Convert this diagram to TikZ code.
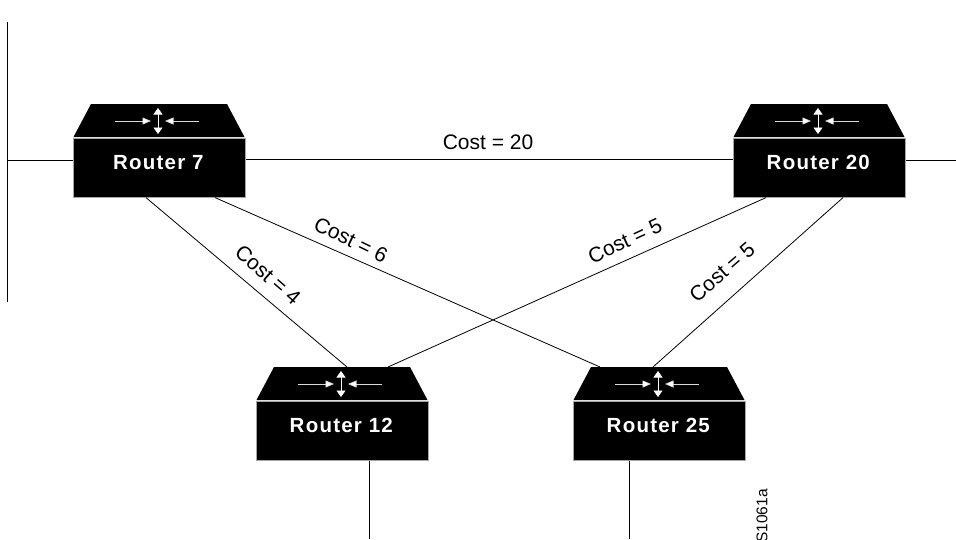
\documentclass[tikz,border=0pt]{standalone}
\usepackage{fontspec}
\setmainfont{Liberation Sans}
\usetikzlibrary{calc,arrows.meta}
\tikzset{
  x=1pt,y=-1pt,
  link/.style={draw=black,line width=0.8pt},
  routerbody/.style={fill=black,draw=black!35,line width=0.6pt,minimum width=172pt,minimum height=59pt,inner sep=0pt,anchor=north west,text=white,font=\fontsize{20.5}{22}\selectfont\bfseries},
  arr/.style={draw=white!85!black,line width=0.7pt,-{Triangle[length=8.5pt,width=7pt,fill=white]}},
  vv/.style={draw=white,line width=0.7pt,{Triangle[length=6.5pt,width=9pt,fill=white]}-{Triangle[length=6.5pt,width=9pt,fill=white]}},
  costlab/.style={font=\fontsize{21}{23}\selectfont,inner sep=0pt}
}
\newcommand{\routerbox}[4]{%
  \node[routerbody] (#1) at (#2,#3) {\hspace*{-2pt}\raisebox{10pt}{\addfontfeatures{LetterSpace=6}#4}};
  \fill[black] ($(#1.north west)+(0.5,-1)$) -- ++(17.5,-33) -- ++(136,0) -- ++(17.5,33) -- cycle;
  \coordinate (#1c) at ($(#1.north west)+(85,-17)$);
  \draw[arr] ($(#1c)+(-43,0)$) -- ($(#1c)+(-7,0)$);
  \draw[arr] ($(#1c)+(41,0)$) -- ($(#1c)+(7,0)$);
  \draw[vv] ($(#1c)+(0,-13)$) -- ($(#1c)+(0,13)$);
}
\begin{document}
\begin{tikzpicture}
\useasboundingbox (0,0) rectangle (956,539);
\routerbox{rs}{73}{138}{Router 7}
\routerbox{rt}{733}{138}{Router 20}
\routerbox{rl}{256}{401}{Router 12}
\routerbox{rf}{573}{401}{Router 25}
\coordinate (busT) at (7,22);
\coordinate (busB) at (7,302);
\coordinate (busM) at (7,160);
\coordinate (eR) at (956,160);
\coordinate (eL) at (369,539);
\coordinate (eF) at (629,539);
\draw[link] (busT) -- (busB);
\draw[link] (busM) -- (rs.west |- busM);
\draw[link] (rt.east |- eR) -- (eR);
\draw[link] (rs.east |- 0,159) -- (rt.west |- 0,159);
\draw[link] (eL |- rl.south) -- (eL);
\draw[link] (eF |- rf.south) -- (eF);
\draw[link] ($(rs.south west)+(73,0)$) -- ($(rl.north west)+(91,-34)$);
\draw[link] ($(rs.south west)+(142,0)$) -- ($(rf.north west)+(27,-34)$);
\draw[link] ($(rt.south west)+(33,0)$) -- ($(rl.north west)+(132,-34)$);
\draw[link] ($(rt.south west)+(110,0)$) -- ($(rf.north west)+(80,-34)$);
\node[costlab] (c20) at (488,142) {Cost = 20};
\node[costlab,rotate=-41] (c4) at (268,275) {Cost = 4};
\node[costlab,rotate=-26] (c6) at (351,240) {Cost = 6};
\node[costlab,rotate=25] (c5a) at (625,241) {Cost = 5};
\node[costlab,rotate=41] (c5b) at (722,272) {Cost = 5};
\node[font=\fontsize{15.5}{18}\selectfont,rotate=90,anchor=east,inner sep=0pt] (id) at (762,489) {S1061a};
\end{tikzpicture}
\end{document}
